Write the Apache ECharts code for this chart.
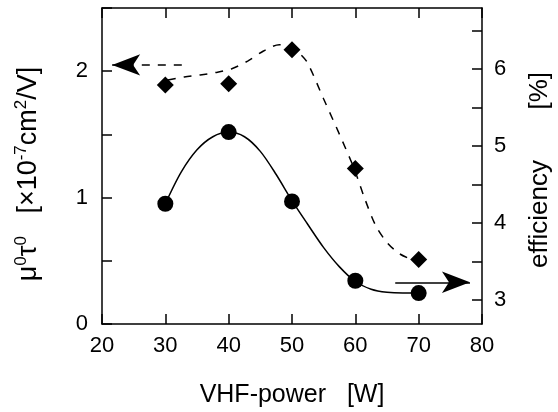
<!DOCTYPE html>
<html><head><meta charset="utf-8">
<script src="https://cdn.jsdelivr.net/npm/echarts@6/dist/echarts.min.js"></script>
<style>html,body{margin:0;padding:0;background:#fff}#c{width:558px;height:412px}</style>
</head><body><div id="c"></div>
<script>
// ---- data ----
const powers = [30, 40, 50, 60, 70];
const mobilityLifetime = [1.89, 1.90, 2.17, 1.23, 0.51];   // left axis, diamonds
const efficiency = [4.25, 5.18, 4.28, 3.25, 3.09];         // right axis, circles
const mobilityFitX = [30.4, 33.0, 35.5, 38.0, 40.5, 43.0, 45.5, 48.0, 49.5, 51.0, 52.4, 55.0, 57.5, 59.8, 61.5, 63.2, 65.0, 67.0, 69.4];
const mobilityFitY = [1.93, 1.955, 1.97, 1.99, 2.02, 2.08, 2.16, 2.21, 2.20, 2.15, 2.07, 1.78, 1.50, 1.23, 0.99, 0.78, 0.645, 0.555, 0.50];
const efficiencyFitX = [30.0, 32.5, 35.0, 37.5, 40.0, 42.5, 45.0, 47.5, 50.0, 52.5, 55.0, 57.5, 60.0, 62.5, 65.0, 67.5, 70.0];
const efficiencyFitY = [4.25, 4.66, 4.95, 5.12, 5.18, 5.12, 4.93, 4.63, 4.29, 3.98, 3.68, 3.43, 3.24, 3.14, 3.10, 3.09, 3.09];
const leftArrowX = [32.6, 21.6];
const leftArrowY = [2.05, 2.05];
const rightArrowX = [66.3, 78.1];
const rightArrowY = [3.23, 3.23];
const xTickValues = [20, 30, 40, 50, 60, 70, 80];
const leftTickValues = [0, 0.5, 1, 1.5, 2, 2.5];
const leftLabelValues = [0, 1, 2];
const rightTickValues = [3, 3.5, 4, 4.5, 5, 5.5, 6, 6.5];
const rightLabelValues = [3, 4, 5, 6];
const xName = 'VHF-power   [W]';
const rightName = 'efficiency       [%]';

const FONT = 'Liberation Sans';
const zip = (a, b) => a.map((v, i) => [v, b[i]]);
const axisLineStyle = { color: '#000', width: 1.5 };

const chart = echarts.init(document.getElementById('c'), null, { renderer: 'canvas' });
chart.setOption({
  backgroundColor: '#fff',
  animation: false,
  grid: { left: 102, right: 76, top: 8, bottom: 88, containLabel: false, outerBoundsMode: 'none' },
  xAxis: [{
    type: 'value', min: 20, max: 80, interval: 10, position: 'bottom',
    axisLine: { lineStyle: axisLineStyle },
    axisTick: { inside: true, length: 10, lineStyle: axisLineStyle, customValues: xTickValues },
    axisLabel: { color: '#000', fontFamily: FONT, fontSize: 22, margin: 11, customValues: xTickValues },
    splitLine: { show: false },
    name: xName, nameLocation: 'middle', nameGap: 59,
    nameTextStyle: { color: '#000', fontFamily: FONT, fontSize: 25 }
  }, {
    type: 'value', min: 20, max: 80, interval: 10, position: 'top',
    axisLine: { lineStyle: axisLineStyle },
    axisTick: { inside: true, length: 10, lineStyle: axisLineStyle, customValues: xTickValues },
    axisLabel: { show: false },
    splitLine: { show: false }
  }],
  yAxis: [{
    type: 'value', min: 0, max: 2.5, interval: 0.5, position: 'left',
    axisLine: { show: true, lineStyle: axisLineStyle },
    axisTick: { show: true, inside: true, length: 10, lineStyle: axisLineStyle, customValues: leftTickValues },
    axisLabel: { color: '#000', fontFamily: FONT, fontSize: 22, margin: 14, customValues: leftLabelValues },
    splitLine: { show: false },
    name: '{n|μ}{s|0}{n|τ}{s|0}{n|   [×10}{s|-7}{n|cm}{s|2}{n|/V]}',
    nameLocation: 'middle', nameGap: 57, nameRotate: 90,
    nameTextStyle: {
      color: '#000', fontFamily: FONT, fontSize: 27, padding: [0, 16, 0, 0],
      rich: {
        n: { fontFamily: FONT, fontSize: 27, lineHeight: 32, color: '#000' },
        s: { fontFamily: FONT, fontSize: 17, lineHeight: 17, verticalAlign: 'top', color: '#000' }
      }
    }
  }, {
    type: 'value', min: 2.688, max: 6.792, position: 'right',
    axisLine: { show: true, lineStyle: axisLineStyle },
    axisTick: { show: true, inside: true, length: 10, lineStyle: axisLineStyle, customValues: rightTickValues },
    axisLabel: { color: '#000', fontFamily: FONT, fontSize: 22, margin: 12, customValues: rightLabelValues },
    splitLine: { show: false },
    name: rightName, nameLocation: 'middle', nameGap: 45, nameRotate: 90,
    nameTextStyle: { color: '#000', fontFamily: FONT, fontSize: 26, padding: [0, 8, 0, 0] }
  }],
  series: [{
    type: 'line', xAxisIndex: 0, yAxisIndex: 0, smooth: 0.3,
    data: zip(mobilityFitX, mobilityFitY), symbol: 'none', silent: true,
    lineStyle: { color: '#000', width: 1.5, type: [8, 8] },
    markLine: {
      silent: true, symbol: ['none', 'arrow'], symbolSize: [16, 28],
      label: { show: false },
      lineStyle: { color: '#000', width: 1.5, type: [8, 8] },
      itemStyle: { color: '#000' },
      data: [[{ coord: [leftArrowX[0], leftArrowY[0]] }, { coord: [leftArrowX[1], leftArrowY[1]] }]]
    }
  }, {
    type: 'line', xAxisIndex: 0, yAxisIndex: 1, smooth: 0.3,
    data: zip(efficiencyFitX, efficiencyFitY), symbol: 'none', silent: true,
    lineStyle: { color: '#000', width: 1.5, type: 'solid' },
    markLine: {
      silent: true, symbol: ['none', 'arrow'], symbolSize: [16, 28],
      label: { show: false },
      lineStyle: { color: '#000', width: 1.5, type: 'solid' },
      itemStyle: { color: '#000' },
      data: [[{ coord: [rightArrowX[0], rightArrowY[0]] }, { coord: [rightArrowX[1], rightArrowY[1]] }]]
    }
  }, {
    type: 'line', xAxisIndex: 0, yAxisIndex: 0,
    data: zip(powers, mobilityLifetime), symbol: 'diamond', symbolSize: 17,
    lineStyle: { width: 0, opacity: 0 }, itemStyle: { color: '#000', borderWidth: 0 }
  }, {
    type: 'line', xAxisIndex: 0, yAxisIndex: 1,
    data: zip(powers, efficiency), symbol: 'circle', symbolSize: 16,
    lineStyle: { width: 0, opacity: 0 }, itemStyle: { color: '#000', borderWidth: 0 }
  }]
});
</script></body></html>
